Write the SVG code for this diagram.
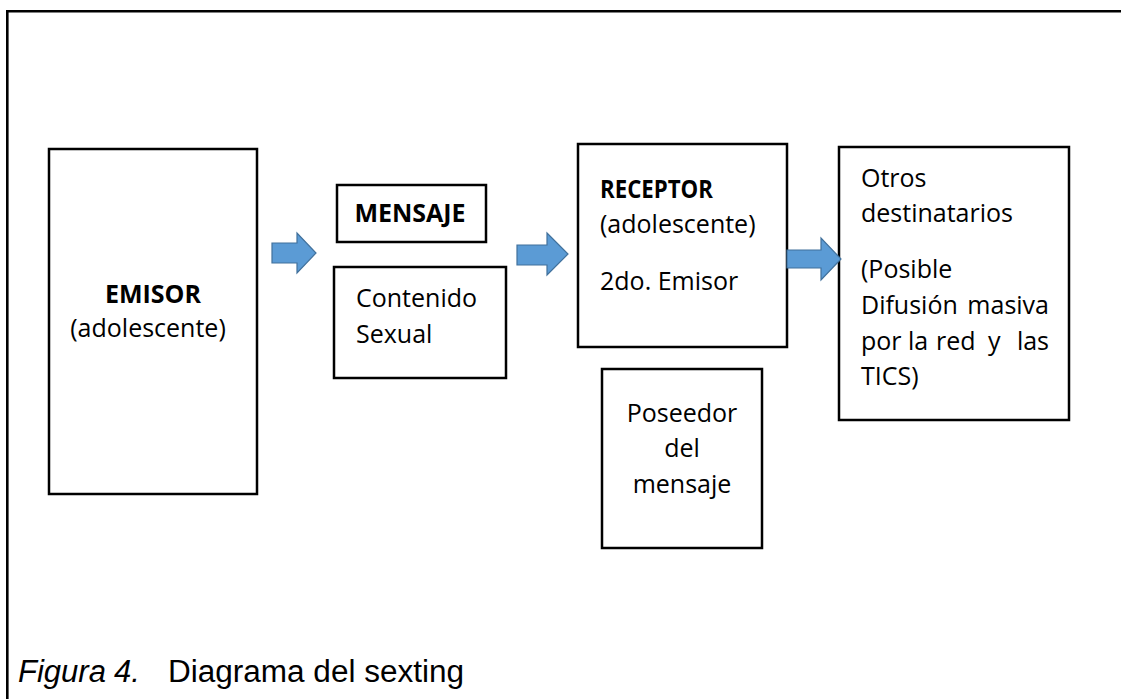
<svg xmlns="http://www.w3.org/2000/svg" width="1121" height="699" viewBox="0 0 1121 699">
<style>
.box{fill:#fff;stroke:#000;stroke-width:2.5}
.t{font-family:"Open Sans","Noto Sans",sans-serif;font-size:25px;fill:#000}
.b{font-weight:700}
.arr{fill:#5B9BD5;stroke:#41719C;stroke-width:1.2}
.cap{font-family:"Liberation Sans",Arial,sans-serif;font-size:31px;fill:#000}
</style>
<rect width="1121" height="699" fill="#fff"/>
<path d="M7.3,699 V11.2 H1121" fill="none" stroke="#000" stroke-width="2.6"/>
<g id="emisor">
<rect class="box" x="49" y="149" width="208" height="345"/>
<text class="t b" x="153" y="303" text-anchor="middle" font-size="26">EMISOR</text>
<text class="t" x="148" y="337" text-anchor="middle">(adolescente)</text>
</g>
<g id="mensaje">
<rect class="box" x="337" y="185" width="149" height="57"/>
<text class="t b" x="410" y="222" text-anchor="middle" font-size="22">MENSAJE</text>
</g>
<g id="contenido">
<rect class="box" x="334" y="267" width="172" height="111"/>
<text class="t" x="356" y="307">Contenido</text>
<text class="t" x="356" y="343">Sexual</text>
</g>
<g id="receptor">
<rect class="box" x="578" y="144" width="209" height="203"/>
<text class="t b" x="600" y="198" font-size="21" textLength="113" lengthAdjust="spacingAndGlyphs">RECEPTOR</text>
<text class="t" x="600" y="233">(adolescente)</text>
<text class="t" x="600" y="290">2do. Emisor</text>
</g>
<g id="poseedor">
<rect class="box" x="602" y="369" width="160" height="179"/>
<text class="t" x="682" y="422" text-anchor="middle">Poseedor</text>
<text class="t" x="682" y="457" text-anchor="middle">del</text>
<text class="t" x="682" y="493" text-anchor="middle">mensaje</text>
</g>
<g id="otros">
<rect class="box" x="839" y="147" width="230" height="273"/>
<text class="t" x="861" y="187">Otros</text>
<text class="t" x="861" y="222">destinatarios</text>
<text class="t" x="861" y="278">(Posible</text>
<text class="t" x="861" y="314">Difusión</text>
<text class="t" x="1049" y="314" text-anchor="end">masiva</text>
<text class="t" y="350"><tspan x="861">por</tspan><tspan x="908">la</tspan><tspan x="936">red</tspan><tspan x="988">y</tspan></text>
<text class="t" x="1049" y="350" text-anchor="end">las</text>
<text class="t" x="861" y="385">TICS)</text>
</g>
<g id="connectors">
<path class="arr" d="M272,243 H297 V233 L316,253 L297,273 V263 H272 Z"/>
<path class="arr" d="M517,245 H547 V233 L568,254 L547,275 V265 H517 Z"/>
<path class="arr" d="M787,250 H821 V238 L841,259 L821,280 V268 H787 Z"/>
</g>
<g id="caption">
<text class="cap" y="682"><tspan x="18" font-style="italic">Figura</tspan><tspan x="114" font-style="italic">4.</tspan></text>
<text class="cap" x="168" y="682" textLength="296" lengthAdjust="spacingAndGlyphs">Diagrama del sexting</text>
</g>
</svg>
